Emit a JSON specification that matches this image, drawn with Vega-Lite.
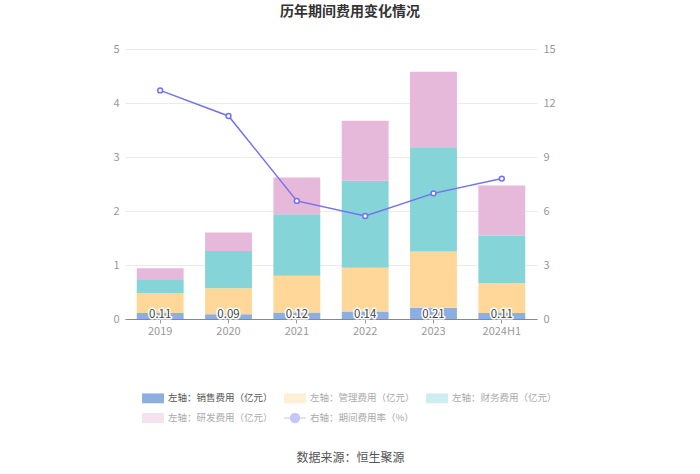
{
  "$schema": "https://vega.github.io/schema/vega-lite/v6.json",
  "width": 412,
  "height": 270,
  "autosize": {"type": "none"},
  "padding": {"left": 125, "top": 49, "right": 163, "bottom": 155},
  "config": {
    "font": "Noto Sans CJK SC",
    "view": {"stroke": null},
    "axis": {"labelColor": "#999", "labelFontSize": 11, "labelFont": "Noto Sans CJK SC"}
  },
  "title": {
    "text": "历年期间费用变化情况",
    "fontSize": 14,
    "fontWeight": "bold",
    "color": "#333",
    "anchor": "middle",
    "frame": "group",
    "dx": 19,
    "offset": 24
  },
  "datasets": {
    "costs": [
      {"year": "2019", "type": "左轴：销售费用（亿元）", "value": 0.11, "order": 1},
      {"year": "2019", "type": "左轴：管理费用（亿元）", "value": 0.37, "order": 2},
      {"year": "2019", "type": "左轴：财务费用（亿元）", "value": 0.24, "order": 3},
      {"year": "2019", "type": "左轴：研发费用（亿元）", "value": 0.22, "order": 4},
      {"year": "2020", "type": "左轴：销售费用（亿元）", "value": 0.09, "order": 1},
      {"year": "2020", "type": "左轴：管理费用（亿元）", "value": 0.48, "order": 2},
      {"year": "2020", "type": "左轴：财务费用（亿元）", "value": 0.69, "order": 3},
      {"year": "2020", "type": "左轴：研发费用（亿元）", "value": 0.34, "order": 4},
      {"year": "2021", "type": "左轴：销售费用（亿元）", "value": 0.12, "order": 1},
      {"year": "2021", "type": "左轴：管理费用（亿元）", "value": 0.68, "order": 2},
      {"year": "2021", "type": "左轴：财务费用（亿元）", "value": 1.14, "order": 3},
      {"year": "2021", "type": "左轴：研发费用（亿元）", "value": 0.68, "order": 4},
      {"year": "2022", "type": "左轴：销售费用（亿元）", "value": 0.14, "order": 1},
      {"year": "2022", "type": "左轴：管理费用（亿元）", "value": 0.81, "order": 2},
      {"year": "2022", "type": "左轴：财务费用（亿元）", "value": 1.61, "order": 3},
      {"year": "2022", "type": "左轴：研发费用（亿元）", "value": 1.11, "order": 4},
      {"year": "2023", "type": "左轴：销售费用（亿元）", "value": 0.21, "order": 1},
      {"year": "2023", "type": "左轴：管理费用（亿元）", "value": 1.04, "order": 2},
      {"year": "2023", "type": "左轴：财务费用（亿元）", "value": 1.93, "order": 3},
      {"year": "2023", "type": "左轴：研发费用（亿元）", "value": 1.40, "order": 4},
      {"year": "2024H1", "type": "左轴：销售费用（亿元）", "value": 0.11, "order": 1},
      {"year": "2024H1", "type": "左轴：管理费用（亿元）", "value": 0.55, "order": 2},
      {"year": "2024H1", "type": "左轴：财务费用（亿元）", "value": 0.88, "order": 3},
      {"year": "2024H1", "type": "左轴：研发费用（亿元）", "value": 0.93, "order": 4}
    ],
    "rate": [
      {"year": "2019", "rate": 12.70},
      {"year": "2020", "rate": 11.28},
      {"year": "2021", "rate": 6.56},
      {"year": "2022", "rate": 5.72},
      {"year": "2023", "rate": 6.98},
      {"year": "2024H1", "rate": 7.80}
    ]
  },
  "layer": [
    {
      "data": {"name": "costs"},
      "layer": [
        {
          "mark": {"type": "bar"},
          "encoding": {
            "x": {
              "field": "year", "type": "nominal", "sort": null, "title": "数据来源：恒生聚源",
              "scale": {"paddingInner": 0.314, "paddingOuter": 0.172},
              "axis": {
                "labelAngle": 0, "domainColor": "#888", "tickColor": "#999", "tickSize": 4, "labelPadding": 2,
                "titleFontSize": 12, "titleFontWeight": "normal", "titleColor": "#555",
                "titleX": 225, "titleY": 138, "titleAlign": "center", "titleBaseline": "middle"
              }
            },
            "y": {
              "field": "value", "type": "quantitative", "stack": "zero",
              "scale": {"domain": [0, 5], "nice": false},
              "axis": {"title": null, "values": [0, 1, 2, 3, 4, 5], "domain": false, "ticks": false, "labelPadding": 6, "gridColor": "#EBEBEB"}
            },
            "color": {
              "field": "type", "type": "nominal",
              "scale": {
                "domain": ["左轴：销售费用（亿元）", "左轴：管理费用（亿元）", "左轴：财务费用（亿元）", "左轴：研发费用（亿元）", "右轴：期间费用率（%）"],
                "range": ["#8DAEE0", "#FFD899", "#84D4D8", "#E6B9DA", "#7172F1"]
              },
              "legend": {
                "orient": "none", "legendX": 16, "legendY": 337, "columns": 3, "direction": "horizontal", "title": null,
                "gridAlign": "all",
                "symbolSize": 480, "labelFontSize": 9.5, "labelColor": "#666", "columnPadding": 8, "rowPadding": -2, "labelOffset": 3, "padding": 0,
                "symbolType": "M-1,-0.45 h2 v0.9 h-2 z",
                "encode": {
                  "symbols": {
                    "update": {
                      "shape": [
                        {"test": "datum.value === '右轴：期间费用率（%）'", "value": "M-1,0 L-0.42,0 M0.42,0 L1,0 M-0.42,0 A0.42,0.42 0 1,0 0.42,0 A0.42,0.42 0 1,0 -0.42,0"},
                        {"value": "M-1,-0.45 h2 v0.9 h-2 z"}
                      ],
                      "fill": [
                        {"test": "datum.value === '右轴：期间费用率（%）'", "value": "white"},
                        {"scale": "color", "field": "value"}
                      ],
                      "stroke": [
                        {"test": "datum.value === '右轴：期间费用率（%）'", "value": "#7172F1"},
                        {"value": "transparent"}
                      ],
                      "strokeWidth": {"value": 1.2},
                      "opacity": [
                        {"test": "datum.value === '左轴：销售费用（亿元）'", "value": 1},
                        {"value": 0.4}
                      ]
                    }
                  },
                  "labels": {
                    "update": {
                      "fill": [
                        {"test": "datum.value === '左轴：销售费用（亿元）'", "value": "#555"},
                        {"value": "#AAA"}
                      ]
                    }
                  }
                }
              }
            },
            "order": {"field": "order", "type": "quantitative", "sort": "ascending"}
          }
        },
        {
          "transform": [{"filter": "datum.order === 1"}],
          "mark": {"type": "text", "stroke": "white", "strokeWidth": 3, "strokeJoin": "round", "dy": -4, "fontSize": 11.5, "baseline": "middle"},
          "encoding": {
            "x": {"field": "year", "type": "nominal", "sort": null, "title": "数据来源：恒生聚源"},
            "y": {"datum": 0},
            "text": {"field": "value", "type": "quantitative", "format": ".2f"}
          }
        },
        {
          "transform": [{"filter": "datum.order === 1"}],
          "mark": {"type": "text", "color": "#444", "dy": -4, "fontSize": 11.5, "baseline": "middle"},
          "encoding": {
            "x": {"field": "year", "type": "nominal", "sort": null, "title": "数据来源：恒生聚源"},
            "y": {"datum": 0},
            "text": {"field": "value", "type": "quantitative", "format": ".2f"}
          }
        }
      ]
    },
    {
      "data": {"name": "rate"},
      "layer": [
        {
          "mark": {"type": "line", "color": "#7172F1", "strokeWidth": 1.5},
          "encoding": {
            "x": {"field": "year", "type": "nominal", "sort": null, "title": "数据来源：恒生聚源"},
            "y": {
              "field": "rate", "type": "quantitative",
              "scale": {"domain": [0, 15], "nice": false},
              "axis": {"title": null, "orient": "right", "values": [0, 3, 6, 9, 12, 15], "domain": false, "ticks": false, "grid": false, "labelPadding": 6}
            }
          }
        },
        {
          "mark": {"type": "point", "shape": "circle", "filled": true, "fill": "white", "stroke": "#7172F1", "strokeWidth": 1.5, "size": 24, "opacity": 1},
          "encoding": {
            "x": {"field": "year", "type": "nominal", "sort": null, "title": "数据来源：恒生聚源"},
            "y": {"field": "rate", "type": "quantitative"}
          }
        }
      ]
    }
  ],
  "resolve": {"scale": {"y": "independent"}}
}
